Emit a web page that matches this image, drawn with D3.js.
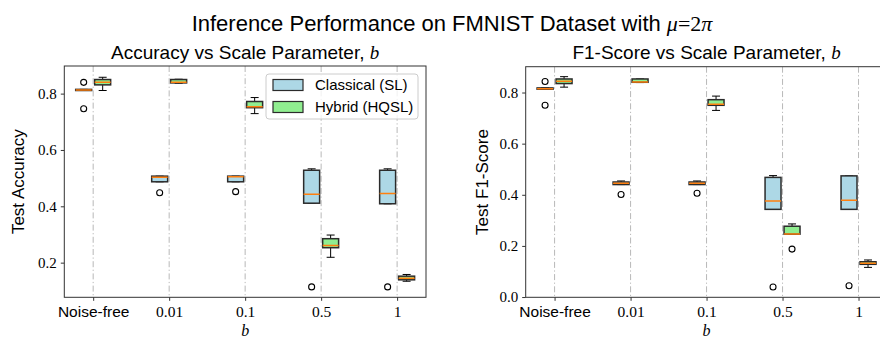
<!DOCTYPE html>
<html><head><meta charset="utf-8">
<script src="https://cdn.jsdelivr.net/npm/d3@7"></script>
<style>body{margin:0;background:#fff}svg{display:block}</style>
</head><body>
<svg id="c" width="880" height="339"></svg>
<script>
const categories = ["Noise-free","0.01","0.1","0.5","1"];
const yTicksAcc = [0.2,0.4,0.6,0.8];
const yTicksF1 = [0.0,0.2,0.4,0.6,0.8];
// box stats: [whiskerLow, q1, median, q3, whiskerHigh]
const accClassical = [[0.813,0.811,0.813,0.815,0.815],[0.487,0.487,0.503,0.507,0.507],[0.487,0.487,0.505,0.507,0.507],[0.411,0.411,0.443,0.528,0.533],[0.409,0.409,0.445,0.528,0.533]];
const accClassicalOut = [[0.840,0.746],[0.448],[0.452],[0.114],[0.114]];
const accHybrid = [[0.811,0.831,0.840,0.850,0.858],[0.837,0.838,0.840,0.850,0.851],[0.729,0.750,0.753,0.772,0.786],[0.219,0.253,0.261,0.285,0.298],[0.134,0.139,0.145,0.152,0.158]];
const accHybridOut = [[],[],[],[],[]];
const f1Classical = [[0.815,0.813,0.815,0.818,0.818],[0.440,0.440,0.445,0.450,0.454],[0.440,0.440,0.445,0.450,0.454],[0.343,0.343,0.376,0.468,0.475],[0.343,0.343,0.379,0.474,0.474]];
const f1ClassicalOut = [[0.843,0.750],[0.401],[0.406],[0.039],[0.044]];
const f1Hybrid = [[0.821,0.835,0.844,0.853,0.862],[0.839,0.840,0.841,0.853,0.853],[0.730,0.750,0.754,0.772,0.786],[0.246,0.246,0.247,0.277,0.286],[0.116,0.128,0.132,0.138,0.145]];
const f1HybridOut = [[],[],[],[0.1875],[]];
const seriesNames = ["Classical (SL)","Hybrid (HQSL)"];
const seriesColors = ["#add8e6","#90ee90"];

const svg = d3.select("#c");
const SANS = "'Liberation Sans', Arial, sans-serif";
const SERIF = "'Liberation Serif', 'DejaVu Serif', serif";

// Suptitle
const st = svg.append("text").attr("x",452).attr("y",31).attr("text-anchor","middle")
  .attr("font-family",SANS).attr("font-size",22).attr("fill","#000");
st.append("tspan").text("Inference Performance on FMNIST Dataset with ");
st.append("tspan").attr("font-family",SERIF).attr("font-style","italic").text("μ");
st.append("tspan").attr("font-family",SERIF).text("=2");
st.append("tspan").attr("font-family",SERIF).attr("font-style","italic").text("π");

function panel(opts){
  const {left,right,top,bottom,ydom,yticks,title,ylabel,ylabelX,cls,clsOut,hyb,hybOut,legend} = opts;
  const x = d3.scaleLinear().domain([-0.38,4.38]).range([left,right]);
  const y = d3.scaleLinear().domain(ydom).range([bottom,top]);
  const g = svg.append("g");
  const clipId = "clip"+Math.round(left);
  svg.append("clipPath").attr("id",clipId).append("rect").attr("x",left).attr("y",top).attr("width",right-left).attr("height",bottom-top);
  const inner = g.append("g").attr("clip-path",`url(#${clipId})`);
  // grid
  inner.selectAll("line.grid").data(categories).join("line")
    .attr("x1",(d,i)=>x(i)).attr("x2",(d,i)=>x(i)).attr("y1",top).attr("y2",bottom)
    .attr("stroke","#b0b0b0").attr("stroke-width",0.9).attr("stroke-dasharray","6,2.5,1.2,2.5");
  const off = 0.125, bw = 0.21;
  function drawBoxes(stats, outs, dx, color){
    const gg = inner.append("g");
    stats.forEach((s,i)=>{
      const cx = x(i+dx), hw = (x(bw)-x(0))/2, cw = hw/2;
      gg.append("line").attr("x1",cx).attr("x2",cx).attr("y1",y(s[0])).attr("y2",y(s[1])).attr("stroke","#000").attr("stroke-width",1);
      gg.append("line").attr("x1",cx).attr("x2",cx).attr("y1",y(s[3])).attr("y2",y(s[4])).attr("stroke","#000").attr("stroke-width",1);
      gg.append("line").attr("x1",cx-cw).attr("x2",cx+cw).attr("y1",y(s[0])).attr("y2",y(s[0])).attr("stroke","#000").attr("stroke-width",1);
      gg.append("line").attr("x1",cx-cw).attr("x2",cx+cw).attr("y1",y(s[4])).attr("y2",y(s[4])).attr("stroke","#000").attr("stroke-width",1);
      gg.append("rect").attr("x",cx-hw).attr("width",2*hw).attr("y",y(s[3])).attr("height",Math.max(0.5,y(s[1])-y(s[3])))
        .attr("fill",color).attr("stroke","#2b2b2b").attr("stroke-width",1.5);
      gg.append("line").attr("x1",cx-hw).attr("x2",cx+hw).attr("y1",y(s[2])).attr("y2",y(s[2])).attr("stroke","#ff7f0e").attr("stroke-width",1.5);
      outs[i].forEach(v=>{
        gg.append("circle").attr("cx",cx).attr("cy",y(v)).attr("r",3).attr("fill","none").attr("stroke","#000").attr("stroke-width",1.1);
      });
    });
  }
  drawBoxes(cls, clsOut, -off, seriesColors[0]);
  drawBoxes(hyb, hybOut, off, seriesColors[1]);
  const yAxis = d3.axisLeft(y).tickValues(yticks).tickFormat(d3.format(".1f")).tickSize(3.5).tickPadding(4);
  const ya = g.append("g").attr("transform",`translate(${left},0)`).call(yAxis);
  ya.select(".domain").remove();
  ya.selectAll("line").attr("stroke","#333");
  ya.selectAll("text").attr("font-family",SERIF).attr("font-size",15).attr("fill","#000");
  const xAxis = d3.axisBottom(x).tickValues(d3.range(categories.length)).tickFormat(i=>categories[i]).tickSize(3.5).tickPadding(5);
  const xa = g.append("g").attr("transform",`translate(0,${bottom})`).call(xAxis);
  xa.select(".domain").remove();
  xa.selectAll("line").attr("stroke","#333");
  xa.selectAll("text").attr("font-family",(d,i)=>i===0?SANS:SERIF).attr("font-size",15.5).attr("fill","#000");
  g.append("rect").attr("x",left).attr("y",top).attr("width",right-left).attr("height",bottom-top)
    .attr("fill","none").attr("stroke","#333").attr("stroke-width",1);
  const tt = g.append("text").attr("x",(left+right)/2).attr("y",59).attr("text-anchor","middle")
    .attr("font-family",SANS).attr("font-size",19).attr("fill","#000");
  tt.append("tspan").text(title+" ");
  tt.append("tspan").attr("font-family",SERIF).attr("font-style","italic").text("b");
  g.append("text").attr("transform",`translate(${ylabelX},${(top+bottom)/2}) rotate(-90)`).attr("text-anchor","middle")
    .attr("dy","0.35em").attr("font-family",SANS).attr("font-size",17).attr("fill","#000").text(ylabel);
  g.append("text").attr("x",(left+right)/2).attr("y",336).attr("text-anchor","middle")
    .attr("font-family",SERIF).attr("font-style","italic").attr("font-size",16).attr("fill","#000").text("b");
  if(legend){
    const lg = g.append("g");
    lg.append("rect").attr("x",266).attr("y",74).attr("width",152).attr("height",45).attr("rx",3)
      .attr("fill","#fff").attr("fill-opacity",0.8).attr("stroke","#ccc").attr("stroke-width",1);
    seriesNames.forEach((n,i)=>{
      const yy = 79.5 + i*22;
      lg.append("rect").attr("x",273).attr("y",yy).attr("width",30).attr("height",11)
        .attr("fill",seriesColors[i]).attr("stroke","#2b2b2b").attr("stroke-width",1.2);
      lg.append("text").attr("x",315).attr("y",yy+10.5).attr("font-family",SANS).attr("font-size",15).attr("fill","#000").text(n);
    });
  }
}

panel({left:64.3,right:426,top:66,bottom:297.3,ydom:[0.077,0.898],yticks:yTicksAcc,
  title:"Accuracy vs Scale Parameter,",ylabel:"Test Accuracy",ylabelX:18.5,
  cls:accClassical,clsOut:accClassicalOut,hyb:accHybrid,hybOut:accHybridOut,legend:true});
panel({left:525.7,right:887.4,top:66.7,bottom:297.3,ydom:[-0.001,0.901],yticks:yTicksF1,
  title:"F1-Score vs Scale Parameter,",ylabel:"Test F1-Score",ylabelX:482.5,
  cls:f1Classical,clsOut:f1ClassicalOut,hyb:f1Hybrid,hybOut:f1HybridOut,legend:false});
</script>
</body></html>
